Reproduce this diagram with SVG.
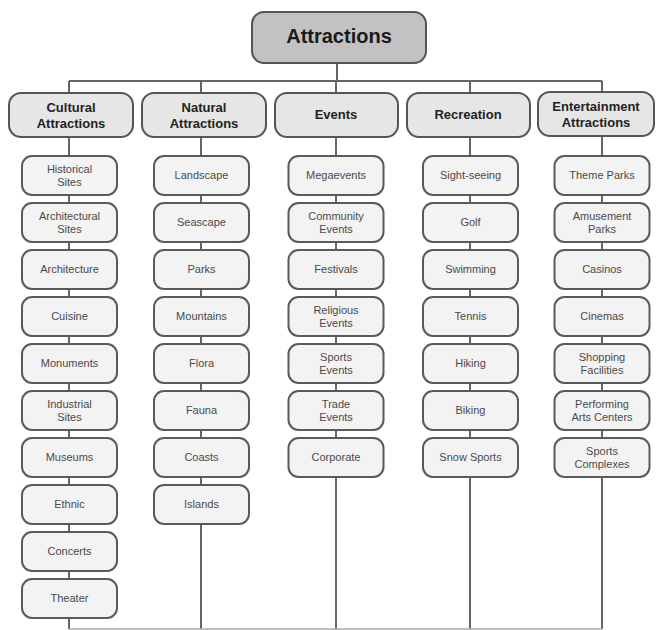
<svg xmlns="http://www.w3.org/2000/svg" width="659" height="630" viewBox="0 0 659 630">
<style>
.ln{stroke:#666;stroke-width:2;fill:none}
.top{fill:#c2c2c2;stroke:#555;stroke-width:2}
.cat{fill:#e6e6e6;stroke:#555;stroke-width:2}
.leaf{fill:#f3f3f3;stroke:#5a5a5a;stroke-width:2}
.tt{font-family:"Liberation Sans",Arial,sans-serif;font-weight:bold;font-size:20px;fill:#1a1a1a;text-anchor:middle}
.ct{font-family:"Liberation Sans",Arial,sans-serif;font-weight:bold;font-size:13px;fill:#222;text-anchor:middle}
.lt{font-family:"Liberation Sans",Arial,sans-serif;font-size:11px;fill:#4a4a4a;text-anchor:middle}
</style>
<rect width="659" height="630" fill="#fff"/>
<g id="connectors">
<path class="ln" d="M337 63V81M69 81H602M69 81V629M201 81V629M336 81V629M470 81V629M602 81V629"/>
<path d="M69 629H602" stroke="#aaa" stroke-width="1.5"/>
</g>
<g id="n-attractions"><rect class="top" x="252" y="12" width="174" height="51" rx="12"/><text class="tt" x="339" y="43">Attractions</text></g>
<g id="n-cultural"><rect class="cat" x="9" y="93" width="124" height="44" rx="12"/><text class="ct" x="71" y="112">Cultural</text><text class="ct" x="71" y="128">Attractions</text></g>
<g id="n-natural"><rect class="cat" x="142" y="93" width="124" height="44" rx="12"/><text class="ct" x="204" y="112">Natural</text><text class="ct" x="204" y="128">Attractions</text></g>
<g id="n-events"><rect class="cat" x="275" y="93" width="123" height="44" rx="12"/><text class="ct" x="336" y="119">Events</text></g>
<g id="n-recreation"><rect class="cat" x="407" y="93" width="123" height="44" rx="12"/><text class="ct" x="468" y="119">Recreation</text></g>
<g id="n-entertainment"><rect class="cat" x="538" y="92" width="116" height="44" rx="12"/><text class="ct" x="596" y="111">Entertainment</text><text class="ct" x="596" y="127">Attractions</text></g>

<g id="c1-1"><rect class="leaf" x="22" y="156" width="95" height="39" rx="10"/><text class="lt" x="69.5" y="173">Historical</text><text class="lt" x="69.5" y="186">Sites</text></g>
<g id="c1-2"><rect class="leaf" x="22" y="203" width="95" height="39" rx="10"/><text class="lt" x="69.5" y="220">Architectural</text><text class="lt" x="69.5" y="233">Sites</text></g>
<g id="c1-3"><rect class="leaf" x="22" y="250" width="95" height="39" rx="10"/><text class="lt" x="69.5" y="273">Architecture</text></g>
<g id="c1-4"><rect class="leaf" x="22" y="297" width="95" height="39" rx="10"/><text class="lt" x="69.5" y="320">Cuisine</text></g>
<g id="c1-5"><rect class="leaf" x="22" y="344" width="95" height="39" rx="10"/><text class="lt" x="69.5" y="367">Monuments</text></g>
<g id="c1-6"><rect class="leaf" x="22" y="391" width="95" height="39" rx="10"/><text class="lt" x="69.5" y="408">Industrial</text><text class="lt" x="69.5" y="421">Sites</text></g>
<g id="c1-7"><rect class="leaf" x="22" y="438" width="95" height="39" rx="10"/><text class="lt" x="69.5" y="461">Museums</text></g>
<g id="c1-8"><rect class="leaf" x="22" y="485" width="95" height="39" rx="10"/><text class="lt" x="69.5" y="508">Ethnic</text></g>
<g id="c1-9"><rect class="leaf" x="22" y="532" width="95" height="39" rx="10"/><text class="lt" x="69.5" y="555">Concerts</text></g>
<g id="c1-10"><rect class="leaf" x="22" y="579" width="95" height="39" rx="10"/><text class="lt" x="69.5" y="602">Theater</text></g>

<g id="c2-1"><rect class="leaf" x="154" y="156" width="95" height="39" rx="10"/><text class="lt" x="201.5" y="179">Landscape</text></g>
<g id="c2-2"><rect class="leaf" x="154" y="203" width="95" height="39" rx="10"/><text class="lt" x="201.5" y="226">Seascape</text></g>
<g id="c2-3"><rect class="leaf" x="154" y="250" width="95" height="39" rx="10"/><text class="lt" x="201.5" y="273">Parks</text></g>
<g id="c2-4"><rect class="leaf" x="154" y="297" width="95" height="39" rx="10"/><text class="lt" x="201.5" y="320">Mountains</text></g>
<g id="c2-5"><rect class="leaf" x="154" y="344" width="95" height="39" rx="10"/><text class="lt" x="201.5" y="367">Flora</text></g>
<g id="c2-6"><rect class="leaf" x="154" y="391" width="95" height="39" rx="10"/><text class="lt" x="201.5" y="414">Fauna</text></g>
<g id="c2-7"><rect class="leaf" x="154" y="438" width="95" height="39" rx="10"/><text class="lt" x="201.5" y="461">Coasts</text></g>
<g id="c2-8"><rect class="leaf" x="154" y="485" width="95" height="39" rx="10"/><text class="lt" x="201.5" y="508">Islands</text></g>

<g id="c3-1"><rect class="leaf" x="288.5" y="156" width="95" height="39" rx="10"/><text class="lt" x="336" y="179">Megaevents</text></g>
<g id="c3-2"><rect class="leaf" x="288.5" y="203" width="95" height="39" rx="10"/><text class="lt" x="336" y="220">Community</text><text class="lt" x="336" y="233">Events</text></g>
<g id="c3-3"><rect class="leaf" x="288.5" y="250" width="95" height="39" rx="10"/><text class="lt" x="336" y="273">Festivals</text></g>
<g id="c3-4"><rect class="leaf" x="288.5" y="297" width="95" height="39" rx="10"/><text class="lt" x="336" y="314">Religious</text><text class="lt" x="336" y="327">Events</text></g>
<g id="c3-5"><rect class="leaf" x="288.5" y="344" width="95" height="39" rx="10"/><text class="lt" x="336" y="361">Sports</text><text class="lt" x="336" y="374">Events</text></g>
<g id="c3-6"><rect class="leaf" x="288.5" y="391" width="95" height="39" rx="10"/><text class="lt" x="336" y="408">Trade</text><text class="lt" x="336" y="421">Events</text></g>
<g id="c3-7"><rect class="leaf" x="288.5" y="438" width="95" height="39" rx="10"/><text class="lt" x="336" y="461">Corporate</text></g>

<g id="c4-1"><rect class="leaf" x="423" y="156" width="95" height="39" rx="10"/><text class="lt" x="470.5" y="179">Sight-seeing</text></g>
<g id="c4-2"><rect class="leaf" x="423" y="203" width="95" height="39" rx="10"/><text class="lt" x="470.5" y="226">Golf</text></g>
<g id="c4-3"><rect class="leaf" x="423" y="250" width="95" height="39" rx="10"/><text class="lt" x="470.5" y="273">Swimming</text></g>
<g id="c4-4"><rect class="leaf" x="423" y="297" width="95" height="39" rx="10"/><text class="lt" x="470.5" y="320">Tennis</text></g>
<g id="c4-5"><rect class="leaf" x="423" y="344" width="95" height="39" rx="10"/><text class="lt" x="470.5" y="367">Hiking</text></g>
<g id="c4-6"><rect class="leaf" x="423" y="391" width="95" height="39" rx="10"/><text class="lt" x="470.5" y="414">Biking</text></g>
<g id="c4-7"><rect class="leaf" x="423" y="438" width="95" height="39" rx="10"/><text class="lt" x="470.5" y="461">Snow Sports</text></g>

<g id="c5-1"><rect class="leaf" x="554.5" y="156" width="95" height="39" rx="10"/><text class="lt" x="602" y="179">Theme Parks</text></g>
<g id="c5-2"><rect class="leaf" x="554.5" y="203" width="95" height="39" rx="10"/><text class="lt" x="602" y="220">Amusement</text><text class="lt" x="602" y="233">Parks</text></g>
<g id="c5-3"><rect class="leaf" x="554.5" y="250" width="95" height="39" rx="10"/><text class="lt" x="602" y="273">Casinos</text></g>
<g id="c5-4"><rect class="leaf" x="554.5" y="297" width="95" height="39" rx="10"/><text class="lt" x="602" y="320">Cinemas</text></g>
<g id="c5-5"><rect class="leaf" x="554.5" y="344" width="95" height="39" rx="10"/><text class="lt" x="602" y="361">Shopping</text><text class="lt" x="602" y="374">Facilities</text></g>
<g id="c5-6"><rect class="leaf" x="554.5" y="391" width="95" height="39" rx="10"/><text class="lt" x="602" y="408">Performing</text><text class="lt" x="602" y="421">Arts Centers</text></g>
<g id="c5-7"><rect class="leaf" x="554.5" y="438" width="95" height="39" rx="10"/><text class="lt" x="602" y="455">Sports</text><text class="lt" x="602" y="468">Complexes</text></g>
</svg>
